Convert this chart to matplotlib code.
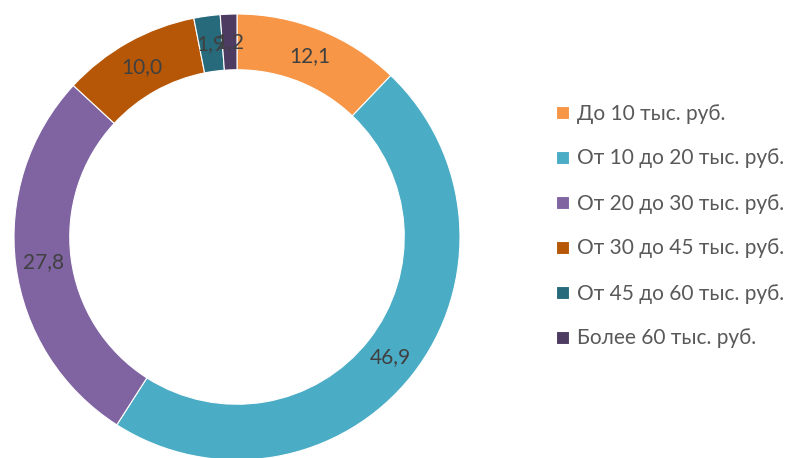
import matplotlib.pyplot as plt
import numpy as np

categories = ["До 10 тыс. руб.", "От 10 до 20 тыс. руб.", "От 20 до 30 тыс. руб.",
              "От 30 до 45 тыс. руб.", "От 45 до 60 тыс. руб.", "Более 60 тыс. руб."]
values = [12.1, 46.9, 27.8, 10.0, 1.9, 1.2]
colors = ["#F79646", "#4BACC6", "#8064A2", "#B65708", "#276A7C", "#4D3B62"]

plt.rcParams["font.family"] = ["Lato", "DejaVu Sans"]

W, H = 791, 458
fig = plt.figure(figsize=(W / 100, H / 100), dpi=100)
cx, cy, r = 237, 458 - 237, 223
ax = fig.add_axes([(cx - r) / W, (cy - r) / H, 2 * r / W, 2 * r / H])

wedges, _ = ax.pie(values, colors=colors, startangle=90, counterclock=False,
                   radius=1, wedgeprops=dict(width=0.25, edgecolor="white", linewidth=0.8))
ax.set_xlim(-1, 1)
ax.set_ylim(-1, 1)
ax.set_aspect("equal")
ax.axis("off")

# подписи значений по середине кольца
for w, v in zip(wedges, values):
    ang = np.deg2rad((w.theta1 + w.theta2) / 2)
    ax.text(0.875 * np.cos(ang), 0.875 * np.sin(ang), f"{v:.1f}".replace(".", ","),
            ha="center", va="center", fontsize=15, color="#404040")

fig.legend(wedges, categories, loc="center left", bbox_to_anchor=(546 / W, 1 - 226 / H),
           frameon=False, fontsize=15, labelcolor="#595959", handlelength=0.6,
           handleheight=0.6, handletextpad=0.4, labelspacing=1.2, borderpad=0)

fig.savefig("out.png", dpi=100)
